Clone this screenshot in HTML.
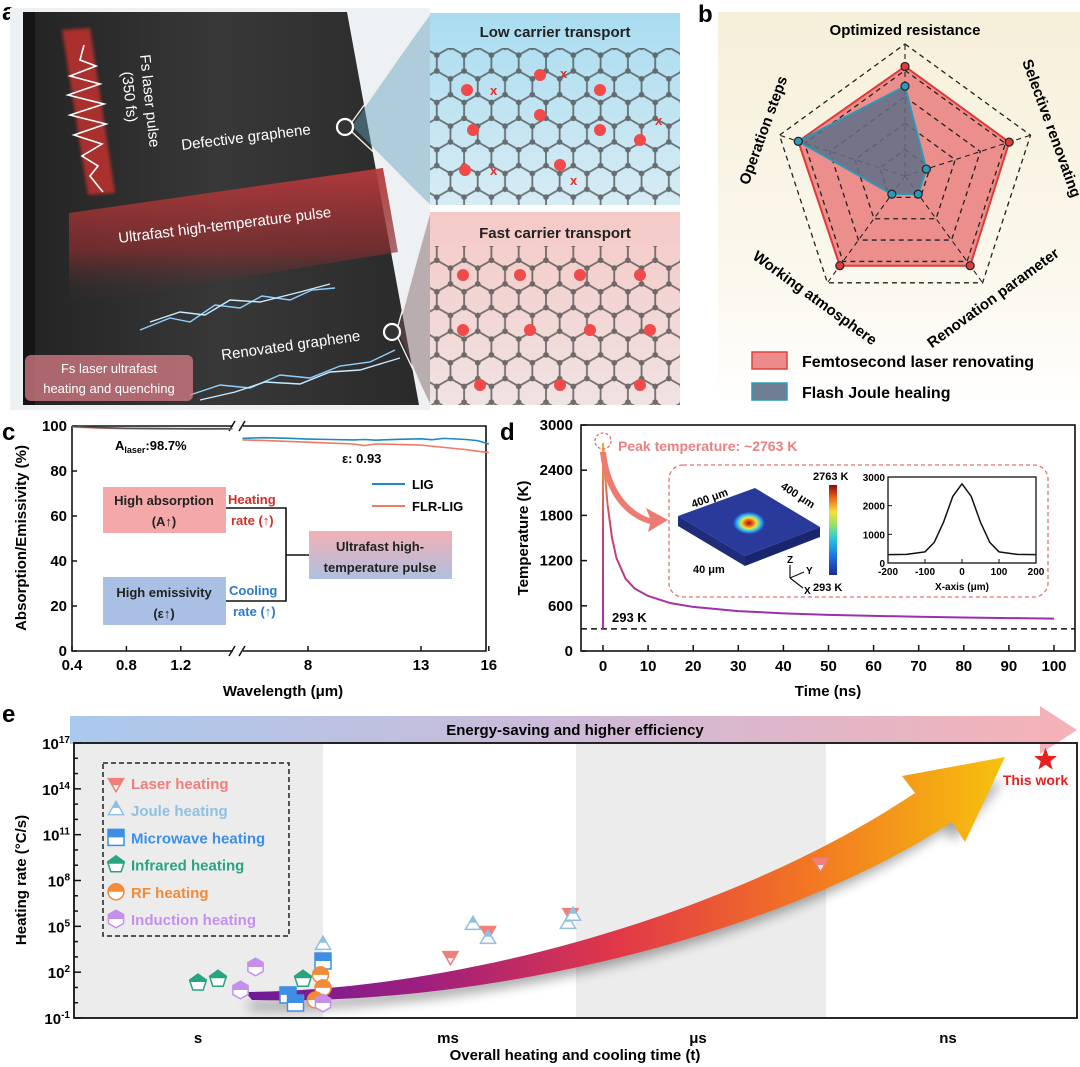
<!DOCTYPE html>
<html><head><meta charset="utf-8"><style>
html,body{margin:0;padding:0;background:#fff;}
svg{display:block;font-family:"Liberation Sans",Arial,sans-serif;}
.b{font-weight:bold;}
</style></head><body>
<svg id="fig" width="1080" height="1067" viewBox="0 0 1080 1067" xmlns="http://www.w3.org/2000/svg">
<defs>
<linearGradient id="blk" x1="0" y1="0" x2="1" y2="0"><stop offset="0" stop-color="#232323"/><stop offset="0.5" stop-color="#383838"/><stop offset="1" stop-color="#2a2a2a"/></linearGradient>
<linearGradient id="redband" x1="0" y1="0" x2="0" y2="1"><stop offset="0" stop-color="#b83a3c" stop-opacity="0.95"/><stop offset="0.6" stop-color="#8a2e30" stop-opacity="0.7"/><stop offset="1" stop-color="#333" stop-opacity="0"/></linearGradient>
<linearGradient id="lowbg" x1="0" y1="0" x2="0" y2="1"><stop offset="0" stop-color="#a9dcf0"/><stop offset="1" stop-color="#d7ecf4"/></linearGradient>
<linearGradient id="fastbg" x1="0" y1="0" x2="0" y2="1"><stop offset="0" stop-color="#f5c9c6"/><stop offset="1" stop-color="#efe3e2"/></linearGradient>
<linearGradient id="bbg" x1="0" y1="0" x2="0" y2="1"><stop offset="0" stop-color="#f6efd9"/><stop offset="0.7" stop-color="#fbf8ee"/><stop offset="1" stop-color="#ffffff"/></linearGradient>
<linearGradient id="ufbox" x1="0" y1="0" x2="0" y2="1"><stop offset="0" stop-color="#f3b0b5"/><stop offset="1" stop-color="#aec0e0"/></linearGradient>
<linearGradient id="dline" gradientUnits="userSpaceOnUse" x1="603" y1="430" x2="680" y2="620"><stop offset="0" stop-color="#f7b733"/><stop offset="0.45" stop-color="#d0406a"/><stop offset="1" stop-color="#9b2fb0"/></linearGradient>
<linearGradient id="jet" x1="0" y1="1" x2="0" y2="0"><stop offset="0" stop-color="#1a2a8c"/><stop offset="0.2" stop-color="#1c6fe0"/><stop offset="0.4" stop-color="#27c7e0"/><stop offset="0.55" stop-color="#8fe070"/><stop offset="0.7" stop-color="#f5e13a"/><stop offset="0.85" stop-color="#f06a1a"/><stop offset="1" stop-color="#8a0a0a"/></linearGradient>
<radialGradient id="spot"><stop offset="0" stop-color="#9a0d0d"/><stop offset="0.25" stop-color="#f0641a"/><stop offset="0.45" stop-color="#f3e23a"/><stop offset="0.65" stop-color="#3ad0e0"/><stop offset="0.85" stop-color="#2b5ed8"/><stop offset="1" stop-color="#24328f" stop-opacity="0"/></radialGradient>
<linearGradient id="banner" x1="0" y1="0" x2="1" y2="0"><stop offset="0" stop-color="#a9c9ec"/><stop offset="0.5" stop-color="#cdbad8"/><stop offset="1" stop-color="#f6b2b6"/></linearGradient>
<linearGradient id="bigarrow" gradientUnits="userSpaceOnUse" x1="240" y1="0" x2="1000" y2="0"><stop offset="0" stop-color="#6a1a9a"/><stop offset="0.25" stop-color="#a11f7c"/><stop offset="0.5" stop-color="#e23848"/><stop offset="0.75" stop-color="#f27722"/><stop offset="1" stop-color="#f6c00e"/></linearGradient>
<filter id="sh" x="-10%" y="-10%" width="120%" height="140%"><feGaussianBlur stdDeviation="6"/></filter>
<filter id="glow"><feGaussianBlur stdDeviation="1.5"/></filter>
<clipPath id="tophalf" clipPathUnits="objectBoundingBox"><rect x="-0.1" y="-0.1" width="1.2" height="0.6"/></clipPath>
<pattern id="hex" width="21" height="36.4" patternUnits="userSpaceOnUse" patternTransform="scale(1.3)">
<path d="M0,6 L10.5,0 L21,6 M10.5,0 L10.5,-6 M0,6 L0,18.2 L10.5,24.2 L21,18.2 L21,6 M10.5,24.2 L10.5,36.4" fill="none" stroke="#4a4a4a" stroke-width="1.4"/>
<circle cx="0" cy="6" r="2.2" fill="#444"/><circle cx="21" cy="6" r="2.2" fill="#444"/><circle cx="10.5" cy="0" r="2.2" fill="#444"/><circle cx="0" cy="18.2" r="2.2" fill="#444"/><circle cx="21" cy="18.2" r="2.2" fill="#444"/><circle cx="10.5" cy="24.2" r="2.2" fill="#444"/><circle cx="10.5" cy="36.4" r="2.2" fill="#444"/>
</pattern>
</defs>

<!-- ============ PANEL A ============ -->
<g>
<text x="2" y="20" font-size="24" class="b">a</text>
<rect x="10" y="8" width="420" height="402" fill="#eef1f4"/>
<polygon points="23,12 347,12 419,405 23,405" fill="url(#blk)"/>
<polygon points="23,12 35,12 35,405 23,405" fill="#151515"/>
<polygon points="69,213 383,168 398,252 69,305" fill="url(#redband)"/>
<polygon points="62,30 90,28 115,193 88,195" fill="#c0302e" opacity="0.85" filter="url(#glow)"/>
<path d="M84,45 L80,60 L96,66 L70,76 L100,84 L68,95 L104,104 L70,115 L106,124 L74,135 L102,144 L82,156 L98,166 L90,176 L98,186 L103,192" fill="none" stroke="#fff" stroke-width="1.6"/>
<text transform="translate(140,55) rotate(84)" fill="#fff" font-size="15">Fs laser pulse</text>
<text transform="translate(122,72) rotate(84)" fill="#fff" font-size="15">(350 fs)</text>
<text transform="translate(182,150) rotate(-7)" fill="#fff" font-size="15">Defective graphene</text>
<text transform="translate(119,243) rotate(-7)" fill="#fff" font-size="15">Ultrafast high-temperature pulse</text>
<text transform="translate(222,360) rotate(-8)" fill="#fff" font-size="15">Renovated graphene</text>
<g stroke="#8fd0ff" stroke-width="1.4" fill="none">
<path d="M140,330 L170,318 L190,322 L215,305 L240,308 L262,296 L290,300 L312,290 L335,288"/>
<path d="M150,322 L180,312 L205,315 L230,300 L260,302 L300,292 L330,284" stroke="#c8ecff"/>
<path d="M190,395 L220,385 L250,388 L280,375 L310,378 L340,366 L370,362 L395,350"/>
<path d="M200,400 L235,392 L265,382 L300,384 L330,372 L360,370 L400,358" stroke="#c8ecff"/>
</g>
<rect x="25" y="355" width="168" height="46" rx="6" fill="#d97c86" opacity="0.75"/>
<text x="109" y="373" text-anchor="middle" fill="#fff" font-size="13">Fs laser ultrafast</text>
<text x="109" y="393" text-anchor="middle" fill="#fff" font-size="13">heating and quenching</text>
<polygon points="352,126 430,14 430,205" fill="#5fa0b8" opacity="0.45"/>
<line x1="352" y1="122" x2="430" y2="14" stroke="#eee" stroke-width="1.4"/><line x1="352" y1="132" x2="430" y2="205" stroke="#eee" stroke-width="1.4"/>
<polygon points="398,332 430,212 430,405" fill="#7a5a5a" opacity="0.45"/>
<line x1="398" y1="326" x2="430" y2="212" stroke="#eee" stroke-width="1.4"/><line x1="398" y1="338" x2="430" y2="405" stroke="#eee" stroke-width="1.4"/>
<circle cx="345" cy="127" r="8" fill="#333" stroke="#fff" stroke-width="2.2"/>
<circle cx="392" cy="332" r="8" fill="#333" stroke="#fff" stroke-width="2.2"/>
<rect x="430" y="13" width="250" height="192" fill="url(#lowbg)"/>
<rect x="430" y="48" width="250" height="157" fill="url(#hex)" opacity="0.75"/>
<text x="555" y="37" text-anchor="middle" font-size="15" class="b" fill="#222">Low carrier transport</text>
<rect x="430" y="212" width="250" height="193" fill="url(#fastbg)"/>
<rect x="430" y="246" width="250" height="159" fill="url(#hex)" opacity="0.75"/>
<text x="555" y="238" text-anchor="middle" font-size="15" class="b" fill="#222">Fast carrier transport</text>
<g fill="#f04a4a">
<circle cx="467" cy="90" r="6"/><circle cx="540" cy="75" r="6"/><circle cx="600" cy="90" r="6"/><circle cx="540" cy="115" r="6"/><circle cx="473" cy="130" r="6"/><circle cx="600" cy="130" r="6"/><circle cx="465" cy="170" r="6"/><circle cx="560" cy="165" r="6"/><circle cx="640" cy="140" r="6"/>
<circle cx="463" cy="275" r="6"/><circle cx="520" cy="275" r="6"/><circle cx="580" cy="275" r="6"/><circle cx="640" cy="275" r="6"/><circle cx="463" cy="330" r="6"/><circle cx="530" cy="330" r="6"/><circle cx="590" cy="330" r="6"/><circle cx="650" cy="330" r="6"/><circle cx="480" cy="385" r="6"/><circle cx="560" cy="385" r="6"/><circle cx="640" cy="385" r="6"/>
</g>
<g fill="#e03030" font-size="13" class="b"><text x="490" y="95">x</text><text x="560" y="78">x</text><text x="490" y="175">x</text><text x="570" y="185">x</text><text x="655" y="125">x</text></g>
</g>

<!-- ============ PANEL B ============ -->
<g>
<rect x="718" y="12" width="362" height="395" fill="url(#bbg)"/>
<text x="698" y="22" font-size="24" class="b">b</text>
<g id="radar"></g>
<text x="905" y="35" text-anchor="middle" font-size="15" class="b">Optimized resistance</text>
<text transform="translate(1047,130) rotate(70)" text-anchor="middle" font-size="15" class="b">Selective renovating</text>
<text transform="translate(996,302) rotate(-36)" text-anchor="middle" font-size="15" class="b">Renovation parameter</text>
<text transform="translate(812,302) rotate(36)" text-anchor="middle" font-size="15" class="b">Working atmosphere</text>
<text transform="translate(768,132) rotate(-70)" text-anchor="middle" font-size="15" class="b">Operation steps</text>
<rect x="752" y="352" width="35" height="17" fill="#eb8c8a" stroke="#e04040" stroke-width="1.5"/>
<text x="802" y="367" font-size="16" class="b">Femtosecond laser renovating</text>
<rect x="752" y="383" width="35" height="17" fill="#6f7e92" stroke="#2a9ab8" stroke-width="1.5"/>
<text x="802" y="398" font-size="16" class="b">Flash Joule healing</text>
</g>

<!-- ============ PANEL C ============ -->
<g>
<text x="2" y="440" font-size="24" class="b">c</text>
<g id="chartc"></g>
<text transform="translate(26,538) rotate(-90)" text-anchor="middle" font-size="15" class="b">Absorption/Emissivity (%)</text>
<text x="283" y="696" text-anchor="middle" font-size="15" class="b">Wavelength (μm)</text>
<text x="115" y="450" font-size="13" class="b">A<tspan font-size="9" dy="3">laser</tspan><tspan dy="-3">:98.7%</tspan></text>
<text x="342" y="463" font-size="13" class="b">ε: 0.93</text>
<line x1="372" y1="484" x2="405" y2="484" stroke="#1a8ac0" stroke-width="2"/>
<text x="412" y="489" font-size="13" class="b">LIG</text>
<line x1="372" y1="506" x2="405" y2="506" stroke="#f07a60" stroke-width="2"/>
<text x="412" y="511" font-size="13" class="b">FLR-LIG</text>
<rect x="103" y="487" width="123" height="46" fill="#f4a8aa"/>
<text x="164" y="505" text-anchor="middle" font-size="13" class="b" fill="#222">High absorption</text>
<text x="164" y="526" text-anchor="middle" font-size="13" class="b" fill="#222">(A↑)</text>
<rect x="103" y="577" width="123" height="48" fill="#a9c0e4"/>
<text x="164" y="597" text-anchor="middle" font-size="13" class="b" fill="#222">High emissivity</text>
<text x="164" y="618" text-anchor="middle" font-size="13" class="b" fill="#222">(ε↑)</text>
<text x="228" y="504" font-size="13" class="b" fill="#d0302a">Heating</text>
<text x="231" y="525" font-size="13" class="b" fill="#d0302a">rate (↑)</text>
<text x="229" y="595" font-size="13" class="b" fill="#2a7ac8">Cooling</text>
<text x="233" y="616" font-size="13" class="b" fill="#2a7ac8">rate (↑)</text>
<path d="M226,508 H286 V601 H226 M286,555 H309" fill="none" stroke="#111" stroke-width="1.6"/>
<rect x="309" y="531" width="143" height="48" fill="url(#ufbox)"/>
<text x="380" y="551" text-anchor="middle" font-size="13" class="b" fill="#222">Ultrafast high-</text>
<text x="380" y="572" text-anchor="middle" font-size="13" class="b" fill="#222">temperature pulse</text>
</g>

<!-- ============ PANEL D ============ -->
<g>
<text x="500" y="440" font-size="24" class="b">d</text>
<g id="chartd"></g>
<text transform="translate(528,538) rotate(-90)" text-anchor="middle" font-size="15" class="b">Temperature (K)</text>
<text x="828" y="696" text-anchor="middle" font-size="15" class="b">Time (ns)</text>
<circle cx="603" cy="441" r="8" fill="none" stroke="#e87070" stroke-width="1.3" stroke-dasharray="3,2"/>
<text x="618" y="451" font-size="14" class="b" fill="#ec8080">Peak temperature: ~2763 K</text>
<path d="M606,452 C610,490 630,512 650,518 L646,508 L668,520 L648,532 L650,524 C622,516 604,490 600,452 Z" fill="#ec7b72"/>
<text x="612" y="622" font-size="13" class="b">293 K</text>
<rect x="669" y="465" width="379" height="132" rx="14" fill="#fff" stroke="#e87070" stroke-width="1.3" stroke-dasharray="4,3"/>
<polygon points="678,516 755,488 820,527 745,556" fill="#2a3a9a"/>
<polygon points="678,516 745,556 745,566 678,526" fill="#1f2c7a"/>
<polygon points="745,556 820,527 820,537 745,566" fill="#1a2570"/>
<ellipse cx="749" cy="523" rx="17" ry="12" fill="url(#spot)"/>
<text transform="translate(693,508) rotate(-20)" font-size="11" class="b">400 μm</text>
<text transform="translate(780,488) rotate(33)" font-size="11" class="b">400 μm</text>
<text x="693" y="573" font-size="11" class="b">40 μm</text>
<path d="M790,578 V565 M790,578 L804,572 M790,578 L803,588" stroke="#111" stroke-width="1.2" fill="none"/>
<text x="787" y="563" font-size="10" class="b">Z</text><text x="806" y="574" font-size="10" class="b">Y</text><text x="804" y="594" font-size="10" class="b">X</text>
<rect x="829" y="485" width="8" height="90" fill="url(#jet)"/>
<text x="813" y="480" font-size="11" class="b">2763 K</text>
<text x="813" y="591" font-size="11" class="b">293 K</text>
<g id="insetd"></g>
<text x="962" y="590" text-anchor="middle" font-size="10" class="b">X-axis (μm)</text>
</g>

<!-- ============ PANEL E ============ -->
<g>
<text x="2" y="722" font-size="24" class="b">e</text>
<polygon points="70,716 1040,716 1040,706 1077,730 1040,754 1040,744 70,744" fill="url(#banner)"/>
<text x="575" y="735" text-anchor="middle" font-size="15" class="b">Energy-saving and higher efficiency</text>
<g id="charte"></g>
<text transform="translate(26,880) rotate(-90)" text-anchor="middle" font-size="15" class="b">Heating rate (°C/s)</text>
<text x="575" y="1060" text-anchor="middle" font-size="15" class="b">Overall heating and cooling time (t)</text>
</g>
</svg>

<script>
// ---------- DATA ----------
// panel b
const radarAxes = ["Optimized resistance","Selective renovating","Renovation parameter","Working atmosphere","Operation steps"];
const femtoValues = [0.83, 0.83, 0.84, 0.84, 0.85];
const jouleValues = [0.68, 0.17, 0.17, 0.17, 0.85];
const radarLevels = [0.2, 0.4, 0.6, 0.8, 1.0];
// panel c
const cYTicks = [0, 20, 40, 60, 80, 100];
const cXTicksLeft = [0.4, 0.8, 1.2];
const cXTicksRight = [8, 13, 16];
const wlLeft = [0.4, 0.6, 0.8, 1.0, 1.2, 1.4, 1.58];
const ligLeft = [99.8, 99.3, 99.0, 98.9, 98.8, 98.8, 98.8];
const flrLeft = [99.6, 99.1, 98.8, 98.7, 98.7, 98.6, 98.7];
const wlRight = [5.1, 6, 7, 8, 9, 10, 10.5, 11, 12, 13, 13.5, 14, 15, 15.5, 16];
const ligRight = [94.5, 94.8, 94.6, 94.2, 94.0, 93.8, 94.0, 93.7, 94.1, 94.3, 93.9, 94.5, 94.0, 93.5, 92.0];
const flrRight = [93.8, 93.6, 93.2, 92.8, 92.4, 92.0, 91.3, 92.0, 91.8, 91.5, 91.0, 90.5, 89.5, 88.8, 88.2];
// panel d
const dXTicks = [0,10,20,30,40,50,60,70,80,90,100];
const dYTicks = [0,600,1200,1800,2400,3000];
const timeNs = [0, 0.5, 1, 2, 3, 5, 7, 10, 15, 20, 30, 40, 50, 60, 70, 80, 90, 100];
const tempK = [2763, 2300, 1950, 1500, 1230, 960, 830, 730, 635, 585, 530, 500, 480, 466, 455, 445, 437, 430];
const ambientK = 293;
const insetX = [-200,-150,-100,-75,-50,-25,0,25,50,75,100,150,200];
const insetT = [293,300,390,720,1420,2320,2763,2320,1420,720,390,300,293];
const insetXTicks = [-200,-100,0,100,200];
const insetYTicks = [0,1000,2000,3000];
// panel e
const eCategories = ["s","ms","μs","ns"];
const eYTickExp = [-1,2,5,8,11,14,17];
const laserX = [1.01, 1.16, 1.49, 2.49]; const laserY = [3.06, 4.7, 5.87, 9.15];
const jouleX = [0.5, 1.1, 1.16, 1.48, 1.5]; const jouleY = [3.78, 5.09, 4.17, 5.15, 5.68];
const microX = [0.36, 0.39, 0.5]; const microY = [0.51, -0.02, 2.73];
const infraX = [0, 0.08, 0.42]; const infraY = [1.3, 1.55, 1.55];
const rfX = [0.49, 0.5, 0.47]; const rfY = [1.82, 0.97, 0.18];
const inducX = [0.17, 0.23, 0.5]; const inducY = [0.83, 2.34, -0.02];
const thisWorkX = [3.39]; const thisWorkY = [15.9];
const legendNames = ["Laser heating","Joule heating","Microwave heating","Infrared heating","RF heating","Induction heating"];

const NS = "http://www.w3.org/2000/svg";
function mk(tag, attrs, parent){const e=document.createElementNS(NS,tag);for(const k in attrs)e.setAttribute(k,attrs[k]);parent.appendChild(e);return e;}
function txt(str, attrs, parent){const e=mk("text",attrs,parent);e.textContent=str;return e;}

// ---------- PANEL B ----------
(function(){
 const g=document.getElementById("radar");
 const cx=905, cy=176, R=132;
 const pt=(i,r)=>{const a=-Math.PI/2+i*2*Math.PI/5;return [cx+R*r*Math.cos(a), cy+R*r*Math.sin(a)];};
 const poly=vals=>vals.map((v,i)=>pt(i,v).join(",")).join(" ");
 const f=mk("polygon",{points:poly(femtoValues),fill:"#eb8e8c",stroke:"#e03a3a","stroke-width":2},g);
 
 
 radarLevels.forEach(l=>{const p=mk("polygon",{points:poly([l,l,l,l,l]),fill:"none",stroke:"#222","stroke-width":1.3,"stroke-dasharray":"5,4"},g);
  
  });
 radarAxes.forEach((a,i)=>{const [x,y]=pt(i,1);const s=mk("line",{x1:cx,y1:cy,x2:x,y2:y,stroke:"#222","stroke-width":1.1,"stroke-dasharray":"5,4"},g);
  
  });
 const j=mk("polygon",{points:poly(jouleValues),fill:"#5f6f86","fill-opacity":0.85,stroke:"#2a9ab8","stroke-width":2},g);
 
 
 femtoValues.forEach((v,i)=>{const [x,y]=pt(i,v);const c=mk("circle",{cx:x,cy:y,r:4,fill:"#e03a3a",stroke:"#222","stroke-width":1.2},g);
  
  });
 jouleValues.forEach((v,i)=>{const [x,y]=pt(i,v);const c=mk("circle",{cx:x,cy:y,r:4,fill:"#2a9ab8",stroke:"#222","stroke-width":1.2},g);
  
  });
})();

// ---------- PANEL C ----------
(function(){
 const g=document.getElementById("chartc");
 const L=72,R=486,T=426,B=651;
 const xL=w=>72+(w-0.4)*136, xR=w=>308+(w-8)*22.6, y=v=>B-(v/100)*(B-T);
 const ax=mk("path",{d:`M${L},${T} H233 M243,${T} H${R} V${B} H243 M233,${B} H${L} V${T}`,fill:"none",stroke:"#111","stroke-width":1.6},g);
 
 
 [T,B].forEach(yy=>{const b=mk("path",{d:`M229,${yy+5} L235,${yy-5} M239,${yy+5} L245,${yy-5}`,stroke:"#111","stroke-width":1.5,fill:"none"},g);
  
  });
 cYTicks.forEach(v=>{mk("line",{x1:L,y1:y(v),x2:L+5,y2:y(v),stroke:"#111","stroke-width":1.5},g);
  const t=txt(v,{x:L-5,y:y(v)+5,"text-anchor":"end","font-size":15,"font-weight":"bold"},g);
  
  });
 cXTicksLeft.forEach(v=>{mk("line",{x1:xL(v),y1:B,x2:xL(v),y2:B-5,stroke:"#111","stroke-width":1.5},g);
  const t=txt(v.toFixed(1),{x:xL(v),y:B+19,"text-anchor":"middle","font-size":15,"font-weight":"bold"},g);
  
  });
 cXTicksRight.forEach(v=>{mk("line",{x1:xR(v),y1:B,x2:xR(v),y2:B-5,stroke:"#111","stroke-width":1.5},g);
  const t=txt(v,{x:xR(v),y:B+19,"text-anchor":"middle","font-size":15,"font-weight":"bold"},g);
  
  });
 const line=(xs,ys,sx,col,name)=>{const p=mk("polyline",{points:xs.map((w,i)=>sx(w)+","+y(ys[i])).join(" "),fill:"none",stroke:col,"stroke-width":1.6},g);
  
  };
 line(wlLeft,flrLeft,xL,"#e08070","flr-lig-line-visible");
 line(wlLeft,ligLeft,xL,"#555","lig-line-visible");
 line(wlRight,ligRight,xR,"#1a8ac0","lig-line-ir");
 line(wlRight,flrRight,xR,"#f07a60","flr-lig-line-ir");
})();

// ---------- PANEL D ----------
(function(){
 const g=document.getElementById("chartd");
 const L=581,R=1075,T=425,B=651;
 const x=t=>603+t*4.51, y=v=>B-v/3000*(B-T);
 const ax=mk("rect",{x:L,y:T,width:R-L,height:B-T,fill:"none",stroke:"#111","stroke-width":1.6},g);
 
 
 dXTicks.forEach(v=>{mk("line",{x1:x(v),y1:B,x2:x(v),y2:B-6,stroke:"#111","stroke-width":1.5},g);
  const t=txt(v,{x:x(v),y:B+20,"text-anchor":"middle","font-size":15,"font-weight":"bold"},g);
  
  });
 dYTicks.forEach(v=>{mk("line",{x1:L,y1:y(v),x2:L+6,y2:y(v),stroke:"#111","stroke-width":1.5},g);
  const t=txt(v,{x:L-8,y:y(v)+5,"text-anchor":"end","font-size":15,"font-weight":"bold"},g);
  
  });
 const d=mk("line",{x1:L,y1:y(ambientK),x2:R,y2:y(ambientK),stroke:"#111","stroke-width":1.5,"stroke-dasharray":"6,4"},g);
 
 
 const pts=[[x(0),y(ambientK)]].concat(timeNs.map((t,i)=>[x(t),y(tempK[i])]));
 const c=mk("polyline",{points:pts.map(p=>p.join(",")).join(" "),fill:"none",stroke:"url(#dline)","stroke-width":2},g);
 
 
 // inset
 const gi=document.getElementById("insetd");
 const iL=888,iR=1036,iT=477,iB=563;
 const ix=v=>iL+(v+200)/400*(iR-iL), iy=v=>iB-v/3000*(iB-iT);
 const ib=mk("rect",{x:iL,y:iT,width:iR-iL,height:iB-iT,fill:"#fff",stroke:"#111","stroke-width":1.3},gi);
 
 
 insetXTicks.forEach(v=>{mk("line",{x1:ix(v),y1:iB,x2:ix(v),y2:iB-4,stroke:"#111"},gi);
  const t=txt(v,{x:ix(v),y:iB+12,"text-anchor":"middle","font-size":10,"font-weight":"bold"},gi);
  
  });
 insetYTicks.forEach(v=>{mk("line",{x1:iL,y1:iy(v),x2:iL+4,y2:iy(v),stroke:"#111"},gi);
  const t=txt(v,{x:iL-3,y:iy(v)+4,"text-anchor":"end","font-size":10,"font-weight":"bold"},gi);
  
  });
 const ic=mk("polyline",{points:insetX.map((v,i)=>ix(v)+","+iy(insetT[i])).join(" "),fill:"none",stroke:"#111","stroke-width":1.5,"stroke-linejoin":"round"},gi);
 
 
})();

// ---------- PANEL E ----------
(function(){
 const g=document.getElementById("charte");
 const L=74,R=1077,T=743,B=1018;
 const x=v=>198+v*250, y=e=>B-(e+1)*(B-T)/18;
 [[L,323],[576,826]].forEach(s=>{const r=mk("rect",{x:s[0],y:T,width:s[1]-s[0],height:B-T,fill:"#ececec"},g);
  
  });
 mk("path",{d:"M245,1000 C470,1000 760,940 940,820 L950,830 L1000,770 L920,790 L930,800 C760,910 470,988 245,992 Z",fill:"#000",opacity:0.35,filter:"url(#sh)",transform:"translate(4,10)"},g);
 const ar=mk("path",{d:"M245,992 C470,990 740,910 915,793 L902,776 L1005,757 L965,842 L952,822 C770,940 480,1006 252,1000 Z",fill:"url(#bigarrow)"},g);
 
 
 const ax=mk("rect",{x:L,y:T,width:R-L,height:B-T,fill:"none",stroke:"#111","stroke-width":1.8},g);
 
 
 for(let e=-1;e<=17;e++){const major=eYTickExp.includes(e);mk("line",{x1:L,y1:y(e),x2:L+(major?7:4),y2:y(e),stroke:"#111","stroke-width":1.5},g);}
 eYTickExp.forEach(e=>{const t=mk("text",{x:L-4,y:y(e)+6,"text-anchor":"end","font-size":15,"font-weight":"bold"},g);
  
  
  const a=document.createElementNS(NS,"tspan");a.textContent="10";t.appendChild(a);
  const b=document.createElementNS(NS,"tspan");b.setAttribute("font-size","10");b.setAttribute("dy","-6");b.textContent=e;t.appendChild(b);});
 eCategories.forEach((c,i)=>{const t=txt(c,{x:x(i),y:B+25,"text-anchor":"middle","font-size":15,"font-weight":"bold"},g);
  
  });
 function shape(type,cx,cy,r){
  if(type==="circle") return ["circle",{cx:cx,cy:cy,r:r}];
  if(type==="rect") return ["rect",{x:cx-r,y:cy-r,width:2*r,height:2*r}];
  let n,off;
  if(type==="down"){n=3;off=Math.PI/2;} else if(type==="up"){n=3;off=-Math.PI/2;} else if(type==="pent"){n=5;off=-Math.PI/2;} else {n=6;off=-Math.PI/2;}
  const p=[];for(let i=0;i<n;i++){const a=off+i*2*Math.PI/n;p.push((cx+r*1.1*Math.cos(a)).toFixed(1)+","+(cy+r*1.1*Math.sin(a)).toFixed(1));}
  return ["polygon",{points:p.join(" ")}];
 }
 function marker(type,cx,cy,col,r,name){
  const grp=mk("g",{},g);
  
  
  const [t1,a1]=shape(type,cx,cy,r);a1.fill="#fff";a1.stroke=col;a1["stroke-width"]=1.5;mk(t1,a1,grp);
  const [t2,a2]=shape(type,cx,cy,r);a2.fill=col;a2["clip-path"]="url(#tophalf)";mk(t2,a2,grp);
 }
 const series=[["down","#f07e7a",laserX,laserY],["up","#8ec0e2",jouleX,jouleY],["rect","#3d8fe6",microX,microY],["pent","#2aa383",infraX,infraY],["circle","#f28a36",rfX,rfY],["hex","#c590ec",inducX,inducY]];
 series.forEach((s,k)=>{s[2].forEach((v,i)=>marker(s[0],x(v),y(s[3][i]),s[1],8,"point-"+legendNames[k].toLowerCase().replace(/ /g,"-")));});
 const lb=mk("rect",{x:103,y:763,width:186,height:173,fill:"none",stroke:"#222","stroke-width":1.5,"stroke-dasharray":"5,3"},g);
 
 
 series.forEach((s,k)=>{const yy=783+k*27.2;marker(s[0],116,yy,s[1],8,"legend-marker");
  const t=txt(legendNames[k],{x:131,y:yy+6,"font-size":15,"font-weight":"bold",fill:s[1]},g);
  
  });
 thisWorkX.forEach((v,i)=>{const cx=x(v),cy=y(thisWorkY[i]);const p=[];for(let j=0;j<10;j++){const a=-Math.PI/2+j*Math.PI/5;const r=j%2?5:12;p.push((cx+r*Math.cos(a)).toFixed(1)+","+(cy+r*Math.sin(a)).toFixed(1));}
  const s=mk("polygon",{points:p.join(" "),fill:"#e82020"},g);
  
  
  const t=txt("This work",{x:cx-10,y:cy+25,"text-anchor":"middle","font-size":14,"font-weight":"bold",fill:"#e82020"},g);
  
  });
})();
</script>
</body></html>
